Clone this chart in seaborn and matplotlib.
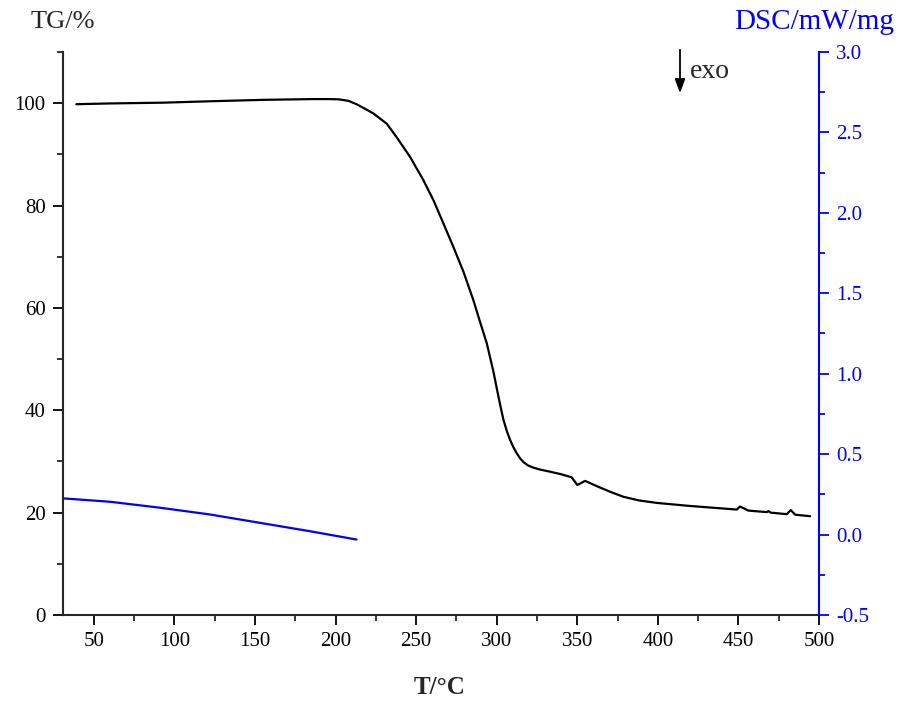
import matplotlib
matplotlib.use("Agg")
import matplotlib.pyplot as plt
import seaborn as sns
import pandas as pd

# ---- data ----
tg_temp = [39.1, 60, 92.9, 125, 155, 186, 196, 202, 208, 213, 218, 223.4, 231.7, 238, 246.2,
           254.4, 260.7, 266.9, 273.1, 279.3, 285.5, 289.5, 293.8, 297.9, 300, 302.1, 304.1,
           306.2, 308.3, 310.3, 312.4, 314.5, 316.5, 319.5, 322.7, 327, 333.1, 340, 346.5,
           350.0, 354.8, 364.1, 371, 378.6, 388, 399.3,
           420, 449, 451, 456.2, 467.6, 468.6, 470, 480, 482.5, 485.2, 494.5]
tg_val = [99.8, 99.95, 100.1, 100.4, 100.65, 100.8, 100.8, 100.75, 100.45, 99.8, 98.95, 98.0, 96.0, 93.3, 89.5,
          85.0, 81.05, 76.5, 71.9, 67.1, 61.5, 57.4, 53.1, 47.6, 44.3, 41.1, 38.2,
          36.0, 34.2, 32.8, 31.6, 30.6, 29.9, 29.2, 28.8, 28.4, 28.0, 27.5, 26.9,
          25.4, 26.2, 24.9, 24.0, 23.1, 22.4, 21.9,
          21.3, 20.6, 21.2, 20.4, 20.1, 20.3, 20.0, 19.7, 20.5, 19.6, 19.3]

dsc_temp = [31, 60, 91, 122, 153, 184, 213]
dsc_val = [0.225, 0.204, 0.167, 0.125, 0.073, 0.021, -0.031]

x_ticks = [50, 100, 150, 200, 250, 300, 350, 400, 450, 500]
tg_ticks = [0, 20, 40, 60, 80, 100]
dsc_ticks = [-0.5, 0.0, 0.5, 1.0, 1.5, 2.0, 2.5, 3.0]

tg_df = pd.DataFrame({"T": tg_temp, "TG": tg_val})
dsc_df = pd.DataFrame({"T": dsc_temp, "DSC": dsc_val})

# ---- style ----
sns.set_theme(style="ticks")
plt.rcParams["font.family"] = ["Liberation Serif", "DejaVu Serif"]

fig = plt.figure(figsize=(9.01, 7.07), dpi=100)
ax = fig.add_axes([63 / 901, 1 - 615 / 707, (819 - 63) / 901, (615 - 52) / 707])
ax2 = ax.twinx()

sns.lineplot(data=tg_df, x="T", y="TG", ax=ax, color="black", linewidth=1.6, sort=False)
sns.lineplot(data=dsc_df, x="T", y="DSC", ax=ax2, color="#0000ff", linewidth=1.6, sort=False)

ax.set_xlim(30.8, 500)
ax.set_ylim(0, 110)
ax2.set_ylim(-0.5, 3.0)

ax.set_xticks(x_ticks)
ax.set_xticks([75, 125, 175, 225, 275, 325, 375, 425, 475], minor=True)
ax.set_yticks(tg_ticks)
ax.set_yticks([10, 30, 50, 70, 90, 110], minor=True)
ax2.set_yticks(dsc_ticks)
ax2.set_yticks([-0.25, 0.25, 0.75, 1.25, 1.75, 2.25, 2.75], minor=True)
ax2.set_yticklabels([f"{v:.1f}" for v in dsc_ticks])

for a in (ax, ax2):
    a.set_xlabel("")
    a.set_ylabel("")

ax.tick_params(axis="both", which="major", direction="out", length=7.5, width=1.3,
               labelsize=15, pad=5, colors="black")
ax.tick_params(axis="both", which="minor", direction="out", length=4.5, width=1.3)
ax2.tick_params(axis="y", which="major", direction="out", length=7.5, width=1.3,
                labelsize=15, pad=5, colors="#0000ff")
ax2.tick_params(axis="y", which="minor", direction="out", length=4.5, width=1.3, colors="#0000ff")

ax.spines["top"].set_visible(False)
ax.spines["right"].set_visible(False)
ax.spines["left"].set_linewidth(1.5)
ax.spines["bottom"].set_linewidth(1.5)
ax2.spines["top"].set_visible(False)
ax2.spines["left"].set_visible(False)
ax2.spines["bottom"].set_visible(False)
ax2.spines["right"].set_color("#0000ff")
ax2.spines["right"].set_linewidth(1.5)

# axis titles
fig.text(63 / 901, 1 - 22 / 707, "TG/%", fontsize=19, ha="center", va="center")
fig.text(814 / 901, 1 - 22 / 707, "DSC/mW/mg", fontsize=21, ha="center", va="center",
         color="#0000ff")
fig.text(440 / 901, 1 - 688 / 707, "T/°C", fontsize=18, fontweight="bold",
         ha="center", va="center")

# exo arrow
fig.add_artist(matplotlib.patches.FancyArrowPatch(
    (680 / 901, 1 - 47 / 707), (680 / 901, 1 - 96 / 707),
    transform=fig.transFigure, arrowstyle="-|>,head_length=0.6,head_width=0.22",
    mutation_scale=14, color="black", linewidth=1.3))
fig.text(690 / 901, 1 - 71 / 707, "exo", fontsize=20, ha="left", va="center")

fig.savefig("out.png", dpi=100)
